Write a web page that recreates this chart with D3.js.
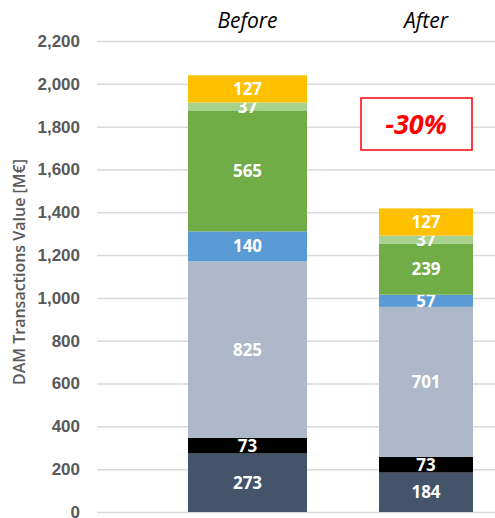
<!DOCTYPE html>
<html>
<head>
<meta charset="utf-8">
<script src="https://cdn.jsdelivr.net/npm/d3@7"></script>
<style>
  body { margin: 0; background: #fff; }
  svg { font-family: "Open Sans", sans-serif; }
</style>
</head>
<body>
<svg id="chart" width="495" height="518"></svg>
<script>
// data
const periods = ['Before', 'After'];
const segments = ['s1', 's2', 's3', 's4', 's5', 's6', 's7'];
const beforeValues = [273, 73, 825, 140, 565, 37, 127];
const afterValues = [184, 73, 701, 57, 239, 37, 127];
const segmentColours = ['#44546A', '#000000', '#ADB9CA', '#5B9BD5', '#70AD47', '#A9D18E', '#FFC000'];
const yTicks = [0, 200, 400, 600, 800, 1000, 1200, 1400, 1600, 1800, 2000, 2200];
const changeLabel = '-30%';

const svg = d3.select('#chart');
const margin = { top: 41, right: 0, bottom: 6, left: 97 };
const height = +svg.attr('height');

const rows = periods.map((p, i) => {
  const vals = i === 0 ? beforeValues : afterValues;
  const row = { period: p };
  segments.forEach((s, j) => row[s] = vals[j]);
  return row;
});
const stacked = d3.stack().keys(segments)(rows);

const yScale = d3.scaleLinear()
  .domain([0, 2200])
  .range([height - margin.bottom, margin.top]);

const xScale = d3.scalePoint()
  .domain(periods)
  .range([247.5, 426]);
const barWidth = { Before: 119, After: 94 };

// gridlines + y axis
const yAxis = d3.axisLeft(yScale)
  .tickValues(yTicks)
  .tickFormat(d3.format(','))
  .tickSize(-(495 - margin.left))
  .tickPadding(17);

const yAxisG = svg.append('g')
  .attr('transform', `translate(${margin.left},0)`)
  .call(yAxis);
yAxisG.select('.domain').remove();
yAxisG.selectAll('.tick line').attr('stroke', '#D9D9D9').attr('stroke-width', 1.5);
yAxisG.selectAll('.tick text')
  .attr('fill', '#595959')
  .style('font-size', '17px')
  .style('font-weight', 600);

// y title
svg.append('text')
  .attr('transform', `translate(25,272) rotate(-90)`)
  .attr('text-anchor', 'middle')
  .attr('fill', '#595959')
  .style('font-size', '16px')
  .style('font-weight', 600)
  .text('DAM Transactions Value [M€]');

// category labels on top
svg.selectAll('.cat').data(periods).enter().append('text')
  .attr('class', 'cat')
  .attr('x', d => xScale(d))
  .attr('y', 28)
  .attr('text-anchor', 'middle')
  .style('font-size', '21px')
  .style('font-style', 'italic')
  .attr('fill', '#000')
  .text(d => d);

// bars
const layers = svg.selectAll('.layer').data(stacked).enter().append('g')
  .attr('class', 'layer')
  .attr('fill', (d, i) => segmentColours[i]);

layers.selectAll('rect').data(d => d).enter().append('rect')
  .attr('x', d => xScale(d.data.period) - barWidth[d.data.period] / 2)
  .attr('width', d => barWidth[d.data.period])
  .attr('y', d => yScale(d[1]))
  .attr('height', d => yScale(d[0]) - yScale(d[1]));

layers.selectAll('text').data(d => d).enter().append('text')
  .attr('x', d => xScale(d.data.period))
  .attr('y', d => (yScale(d[0]) + yScale(d[1])) / 2)
  .attr('dy', '0.36em')
  .attr('text-anchor', 'middle')
  .attr('fill', '#fff')
  .style('font-size', '17px')
  .style('font-weight', 700)
  .text(d => d[1] - d[0]);

// change box
const boxG = svg.append('g');
boxG.append('rect')
  .attr('x', 361).attr('y', 98)
  .attr('width', 111).attr('height', 52)
  .attr('fill', '#fff')
  .attr('stroke', '#FF0000')
  .attr('stroke-width', 1.5);
boxG.append('text')
  .attr('x', 416).attr('y', 124)
  .attr('dy', '0.36em')
  .attr('text-anchor', 'middle')
  .attr('fill', '#FF0000')
  .style('font-size', '27px')
  .style('font-weight', 700)
  .style('font-style', 'italic')
  .text(changeLabel);
</script>
</body>
</html>
